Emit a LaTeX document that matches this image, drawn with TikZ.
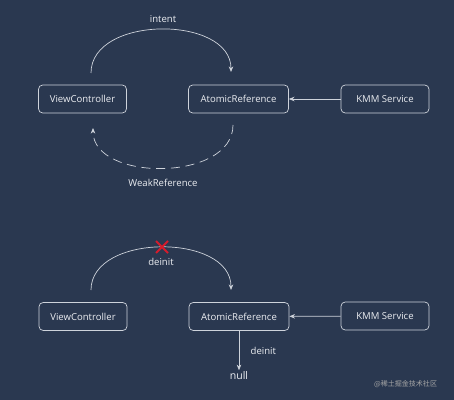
\documentclass[tikz,border=0pt]{standalone}
\usepackage{fontspec}
\setmainfont{Open Sans}
\newfontfamily\cjkfont{Noto Sans CJK SC}
\usepackage{tikz}
\usetikzlibrary{arrows.meta}
\definecolor{NightBg}{RGB}{42, 56, 80}
\definecolor{FrameGrey}{RGB}{206, 211, 219}
\definecolor{LabelWhite}{RGB}{236, 238, 242}
\definecolor{CrossRed}{RGB}{212, 28, 44}

\begin{document}
\begin{tikzpicture}[
        x=0.025cm, y=-0.025cm,
        box/.style={rectangle, rounded corners=3pt, draw=FrameGrey, line width=0.5pt,
                    minimum height=0.7cm, inner sep=0pt, text=LabelWhite,
                    font=\fontsize{6.8}{8}\selectfont},
        lbl/.style={text=LabelWhite, font=\fontsize{6.8}{8}\selectfont, inner sep=1pt},
        arrow/.style={-{Stealth[length=4pt, width=3.2pt]}, FrameGrey, line width=0.5pt}
    ]
        \fill[NightBg] (0,0) rectangle (454,400);
        \useasboundingbox (0,0) rectangle (454,400);

        % upper part
        \node[box, minimum width=2.2cm] (vc) at (82.5,99) {ViewController};
        \node[box, minimum width=2.5cm] (atom) at (238.5,99) {AtomicReference};
        \node[box, minimum width=2.2cm] (kmm) at (385,99) {KMM Service};
        \node[lbl] (intent) at (163,19) {intent};
        \node[lbl] (weak) at (163,183) {WeakReference};

        \coordinate (vcup) at (91,73);
        \coordinate (atomup) at (231,72);
        \coordinate (atomdown) at (233,125);
        \coordinate (vcdown) at (93,128);

        \draw[arrow] (kmm) -- (atom);
        \draw[arrow] (vcup) .. controls (91,15) and (231,15) .. (atomup);
        \draw[arrow, dash pattern=on 6.5pt off 4pt] (atomdown) .. controls (233,182) and (93,182) .. (vcdown);

        % lower part
        \node[box, minimum width=2.2cm] (vc2) at (83,316.5) {ViewController};
        \node[box, minimum width=2.5cm] (atom2) at (239,316.5) {AtomicReference};
        \node[box, minimum width=2.2cm] (kmm2) at (385,316) {KMM Service};
        \node[lbl] (deinit) at (161,262) {deinit};
        \node[lbl, font=\fontsize{7.5}{9}\selectfont] (null) at (239,376) {null};
        \node[lbl, anchor=west] (deinit2) at (249,351) {deinit};
        \node[text=gray!70, font=\cjkfont\fontsize{5}{6}\selectfont, anchor=east] (mark) at (442,384) {@稀土掘金技术社区};

        \coordinate (vc2up) at (91,290);
        \coordinate (atom2up) at (231,290);
        \coordinate (cut) at (162,247);

        \draw[arrow] (kmm2) -- (atom2);
        \draw[arrow] (vc2up) .. controls (91,233) and (231,233) .. (atom2up);
        \draw[arrow] (atom2) -- (null);
        \draw[CrossRed, line width=1.3pt] ([shift={(-6,-6)}]cut) -- ([shift={(6,6)}]cut)
                                          ([shift={(-6,6)}]cut) -- ([shift={(6,-6)}]cut);
    \end{tikzpicture}
\end{document}
